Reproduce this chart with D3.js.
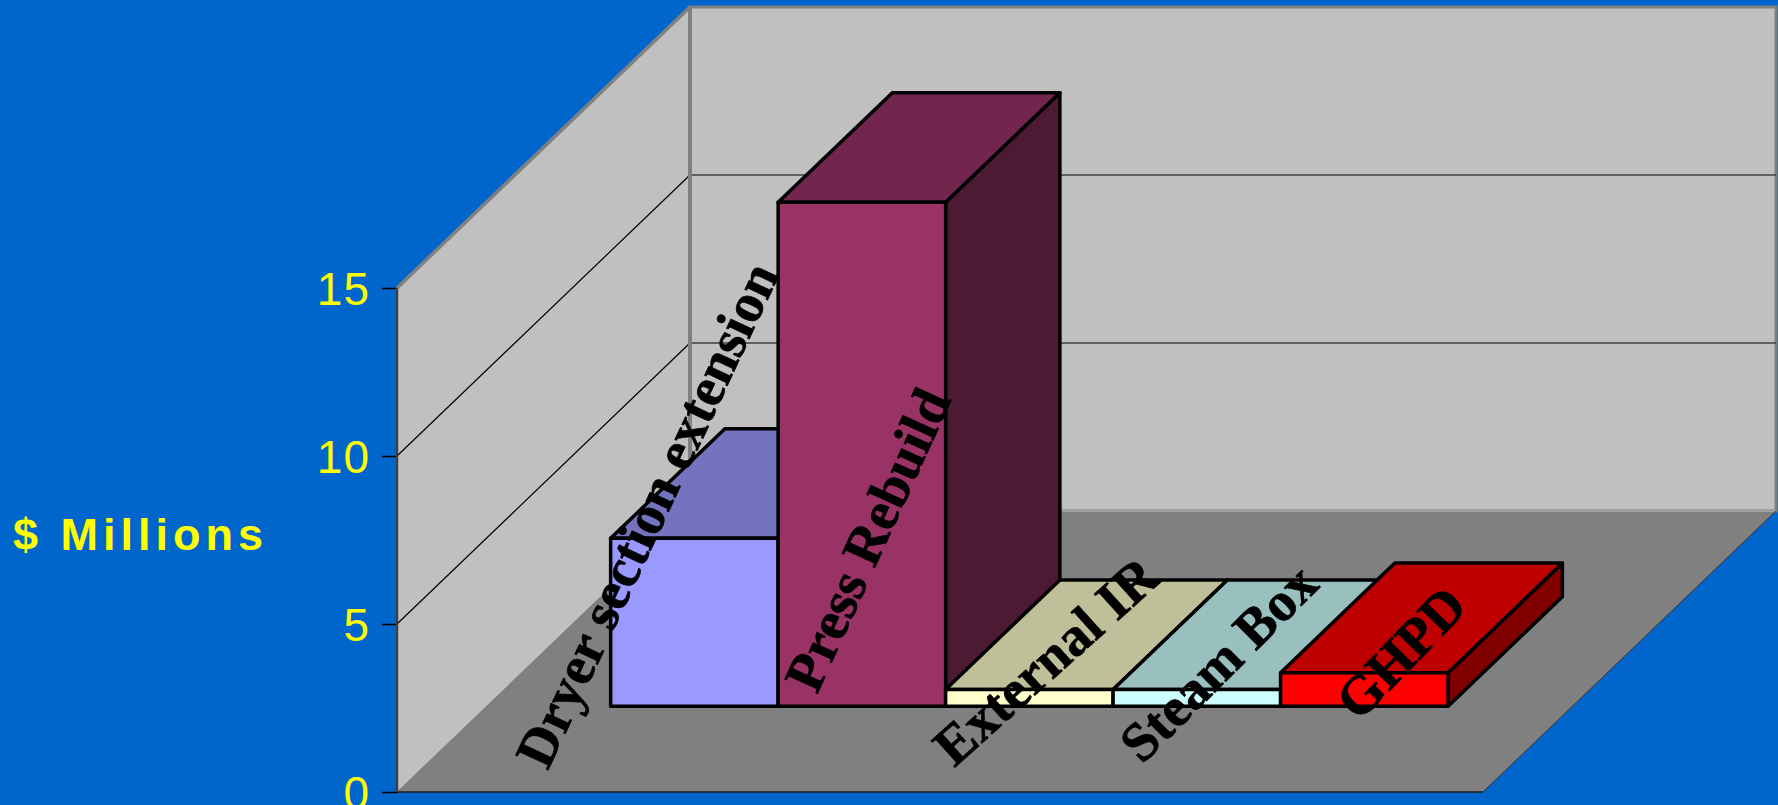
<!DOCTYPE html>
<html>
<head>
<meta charset="utf-8">
<script src="https://cdnjs.cloudflare.com/ajax/libs/d3/7.8.5/d3.min.js"></script>
<style>
  html, body { margin: 0; padding: 0; background: #0066CC; overflow: hidden; }
  svg { display: block; }
  .tick text { fill: #FFFF00; font-family: "Liberation Sans", Arial, sans-serif; font-size: 46px; letter-spacing: 1px; }
  .tick line { stroke: #000; stroke-width: 1.5px; }
  .bar-label { font-family: "Liberation Serif", "Times New Roman", serif; font-weight: bold; font-size: 55px; fill: #000; stroke: #000; stroke-width: 0.7px; }
</style>
</head>
<body>
<div id="chart"></div>
<script>
// chart values
var seriesNames = ["Dryer section extension", "Press Rebuild", "External IR", "Steam Box", "GHPD"];
var seriesValues = [5, 15, 0.5, 0.5, 1];
var seriesColors = ["#9999FF", "#993366", "#FFFFCC", "#CCFFFF", "#FF0000"];
var yTicks = [0, 5, 10, 15];
var yLabel = "$ Millions";

var width = 1778, height = 805;

// front plane of the plot box and the depth offset of the back wall
var plot = { left: 397, right: 1483, bottom: 792, top: 288 };
var depth = { dx: 293, dy: -281 };
var barDepth = [0.305, 0.695];

// label placement relative to the bottom centre of each bar's front face: [dx, dy, angle]
var labelLayout = [[-48, -192, -65], [5, -167, -65.5], [16, -46, -42], [21, -44, -45], [36, -54, -46]];

var svg = d3.select("#chart").append("svg")
    .attr("width", width)
    .attr("height", height);

svg.append("rect")
    .attr("width", width)
    .attr("height", height)
    .attr("fill", "#0066CC");

var y = d3.scaleLinear()
    .domain([0, 15])
    .range([plot.bottom, plot.top]);

var x = d3.scaleBand()
    .domain(seriesNames)
    .range([plot.left, plot.right])
    .paddingInner(0)
    .paddingOuter(0.742);

// oblique projection: px on the front plane, value v, depth z in [0, 1]
function P (px, v, z) {
  return [px + z * depth.dx, y(v) + z * depth.dy];
}

function poly (pts) {
  return "M" + pts.map(function (p) { return p[0] + "," + p[1]; }).join("L") + "Z";
}

function shade (c, k) {
  var r = d3.rgb(c);
  return d3.rgb(r.r * k, r.g * k, r.b * k).formatHex();
}

var vMax = y.domain()[1];

// walls and floor
svg.append("path")
    .attr("d", poly([P(plot.left, 0, 0), P(plot.left, vMax, 0), P(plot.left, vMax, 1), P(plot.left, 0, 1)]))
    .attr("fill", "#C0C0C0");

svg.append("path")
    .attr("d", poly([P(plot.left, 0, 1), P(plot.left, vMax, 1), P(plot.right, vMax, 1), P(plot.right, 0, 1)]))
    .attr("fill", "#C0C0C0")
    .attr("stroke", "#808080")
    .attr("stroke-width", 3);

svg.append("path")
    .attr("d", poly([P(plot.left, 0, 0), P(plot.right, 0, 0), P(plot.right, 0, 1), P(plot.left, 0, 1)]))
    .attr("fill", "#808080");

// gridlines
var grid = yTicks.filter(function (d) { return d > 0 && d < vMax; });

svg.selectAll(".grid-left").data(grid).enter().append("line")
    .attr("class", "grid-left")
    .attr("x1", function (d) { return P(plot.left, d, 0)[0]; })
    .attr("y1", function (d) { return P(plot.left, d, 0)[1]; })
    .attr("x2", function (d) { return P(plot.left, d, 1)[0]; })
    .attr("y2", function (d) { return P(plot.left, d, 1)[1]; })
    .attr("stroke", "#000")
    .attr("stroke-width", 1.2);

svg.selectAll(".grid-back").data(grid).enter().append("line")
    .attr("class", "grid-back")
    .attr("x1", function (d) { return P(plot.left, d, 1)[0]; })
    .attr("y1", function (d) { return P(plot.left, d, 1)[1]; })
    .attr("x2", function (d) { return P(plot.right, d, 1)[0]; })
    .attr("y2", function (d) { return P(plot.right, d, 1)[1]; })
    .attr("stroke", "#404040")
    .attr("stroke-width", 1.5);

// wall edges
function edge (a, b, color, w) {
  svg.append("line")
      .attr("x1", a[0]).attr("y1", a[1])
      .attr("x2", b[0]).attr("y2", b[1])
      .attr("stroke", color)
      .attr("stroke-width", w);
}

edge(P(plot.left, vMax, 0), P(plot.left, vMax, 1), "#808080", 3.5);
edge(P(plot.left, 0, 1), P(plot.left, vMax, 1), "#808080", 4);
edge(P(plot.left, 0, 1), P(plot.right, 0, 1), "#A0A0A0", 2);
edge(P(plot.left, 0, 0), P(plot.right, 0, 0), "#1a1a1a", 1.5);
edge(P(plot.right, 0, 0), P(plot.right, 0, 1), "#333333", 1);

// bars, drawn left to right so each front face covers the previous side face
var bars = svg.append("g").attr("class", "bars");

seriesNames.forEach(function (name, i) {
  var x0 = x(name), x1 = x0 + x.bandwidth(), v = seriesValues[i];
  var z0 = barDepth[0], z1 = barDepth[1];
  var g = bars.append("g")
      .attr("stroke", "#000")
      .attr("stroke-width", 3.5)
      .attr("stroke-linejoin", "round");

  g.append("path")
      .attr("d", poly([P(x1, 0, z0), P(x1, 0, z1), P(x1, v, z1), P(x1, v, z0)]))
      .attr("fill", shade(seriesColors[i], 0.5));

  g.append("path")
      .attr("d", poly([P(x0, v, z0), P(x1, v, z0), P(x1, v, z1), P(x0, v, z1)]))
      .attr("fill", shade(seriesColors[i], 0.75));

  g.append("path")
      .attr("d", poly([P(x0, 0, z0), P(x1, 0, z0), P(x1, v, z0), P(x0, v, z0)]))
      .attr("fill", seriesColors[i]);
});

// value axis on the front left edge
var yAxis = d3.axisLeft(y)
    .tickValues(yTicks)
    .tickSize(15)
    .tickPadding(12)
    .tickFormat(d3.format("d"));

svg.append("g")
    .attr("class", "y axis")
    .attr("transform", "translate(" + plot.left + ",0)")
    .call(yAxis)
    .call(function (g) { g.select(".domain").remove(); })
    .selectAll("text")
    .attr("dy", "0.36em");

edge([plot.left, y(0)], [plot.left, y(vMax)], "#404040", 2.5);

svg.append("text")
    .attr("x", 13)
    .attr("y", 550)
    .attr("fill", "#FFFF00")
    .style("font-family", "'Liberation Sans', Arial, sans-serif")
    .style("font-weight", "bold")
    .style("font-size", "45px")
    .style("letter-spacing", "5px")
    .text(yLabel);

// series name labels
seriesNames.forEach(function (name, i) {
  var cx = x(name) + x.bandwidth() / 2 + barDepth[0] * depth.dx + labelLayout[i][0];
  var cy = y(0) + barDepth[0] * depth.dy + labelLayout[i][1];
  svg.append("text")
      .attr("class", "bar-label")
      .attr("text-anchor", "middle")
      .attr("dy", "0.35em")
      .attr("transform", "translate(" + cx + "," + cy + ") rotate(" + labelLayout[i][2] + ")")
      .text(name);
});
</script>
</body>
</html>
